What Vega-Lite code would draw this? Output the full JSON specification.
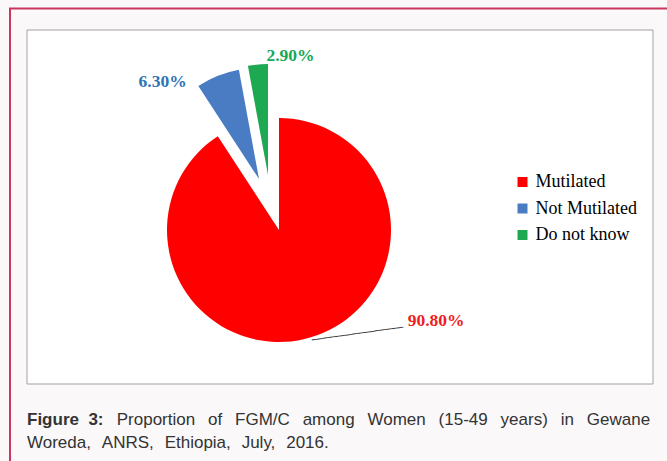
{
  "$schema": "https://vega.github.io/schema/vega-lite/v6.json",
  "width": 626,
  "height": 354,
  "autosize": {"type": "none"},
  "padding": {"left": 27, "top": 30, "right": 14, "bottom": 77},
  "background": "#faf8f9",
  "data": {
    "values": [
      {"category": "Mutilated", "value": 90.8, "label": "90.80%", "order": 1},
      {"category": "Not Mutilated", "value": 6.3, "label": "6.30%", "order": 2},
      {"category": "Do not know", "value": 2.9, "label": "2.90%", "order": 3}
    ]
  },
  "transform": [
    {"stack": "value", "groupby": [], "sort": [{"field": "order", "order": "ascending"}], "as": ["v0", "v1"]}
  ],
  "title": {
    "text": "Figure\u00a0\u00a03:",
    "subtitle": [
      "\u200b\u00a0\u00a0\u00a0\u00a0\u00a0\u00a0\u00a0\u00a0\u00a0\u00a0\u00a0\u00a0\u00a0\u00a0\u00a0\u00a0\u00a0\u00a0\u00a0Proportion\u00a0\u00a0\u2009of\u00a0\u00a0\u2009FGM/C\u00a0\u00a0\u2009among\u00a0\u00a0\u2009Women\u00a0\u00a0\u2009(15-49\u00a0\u00a0\u2009years)\u00a0\u00a0\u2009in\u00a0\u00a0\u2009Gewane",
      "Woreda,\u00a0\u00a0\u200aANRS,\u00a0\u00a0\u200aEthiopia,\u00a0\u00a0\u200aJuly,\u00a0\u00a0\u200a2016."
    ],
    "orient": "bottom",
    "anchor": "start",
    "frame": "group",
    "offset": -60,
    "font": "Liberation Sans",
    "fontSize": 17,
    "fontWeight": "bold",
    "color": "#333333",
    "subtitleFont": "Liberation Sans",
    "subtitleFontSize": 17,
    "subtitleFontWeight": "normal",
    "subtitleColor": "#333333",
    "subtitlePadding": -17,
    "subtitleLineHeight": 23
  },
  "layer": [
    {
      "transform": [{"filter": "datum.category === 'Mutilated'"}],
      "mark": {"type": "rect", "x": -17, "y": -21.5, "x2": 700, "y2": 441, "fill": "white", "fillOpacity": 0, "stroke": "#c8385e", "strokeWidth": 2, "clip": false},
      "encoding": {}
    },
    {
      "transform": [{"filter": "datum.category === 'Mutilated'"}],
      "mark": {"type": "rect", "x": 0, "y": 0, "x2": {"expr": "width"}, "y2": {"expr": "height"}, "fill": "#ffffff", "stroke": "#a3a3a3", "strokeWidth": 1},
      "encoding": {}
    },
    {
      "transform": [{"filter": "datum.category === 'Mutilated'"}],
      "mark": {"type": "arc", "radius": 112, "xOffset": -61, "yOffset": 23},
      "encoding": {
        "theta": {"field": "v0", "type": "quantitative", "stack": null, "scale": {"domain": [0, 100]}},
        "theta2": {"field": "v1"},
        "color": {
          "field": "category",
          "type": "nominal",
          "scale": {"domain": ["Mutilated", "Not Mutilated", "Do not know"], "range": ["#ff0000", "#4a7cc4", "#1da852"]},
          "legend": {
            "orient": "none",
            "legendX": 486.5,
            "legendY": 143,
            "title": null,
            "symbolType": "square",
            "symbolSize": 100,
            "symbolStrokeWidth": 0,
            "symbolOpacity": 1,
            "labelFont": "Liberation Serif",
            "labelFontSize": 18,
            "labelColor": "#000000",
            "labelOffset": 4,
            "rowPadding": 8.5,
            "padding": 0
          }
        }
      }
    },
    {
      "transform": [{"filter": "datum.category === 'Not Mutilated'"}],
      "mark": {"type": "arc", "radius": 111, "xOffset": -81, "yOffset": -28},
      "encoding": {
        "theta": {"field": "v0", "type": "quantitative", "stack": null},
        "theta2": {"field": "v1"},
        "color": {"field": "category", "type": "nominal"}
      }
    },
    {
      "transform": [{"filter": "datum.category === 'Do not know'"}],
      "mark": {"type": "arc", "radius": 111, "xOffset": -72, "yOffset": -32},
      "encoding": {
        "theta": {"field": "v0", "type": "quantitative", "stack": null},
        "theta2": {"field": "v1"},
        "color": {"field": "category", "type": "nominal"}
      }
    },
    {
      "transform": [{"filter": "datum.category === 'Mutilated'"}],
      "mark": {"type": "text", "radius": 115, "xOffset": -61, "yOffset": 23, "text": "────────────────", "font": "DejaVu Sans Mono", "fontSize": 9.6, "align": "left", "baseline": "middle", "angle": -8, "fill": "#3a3a3a"},
      "encoding": {
        "theta": {"field": "value", "type": "quantitative", "stack": true}
      }
    },
    {
      "transform": [{"filter": "datum.category === 'Mutilated'"}],
      "mark": {"type": "text", "radius": 95, "xOffset": -61, "yOffset": 23, "dx": 130, "font": "Liberation Serif", "fontWeight": "bold", "fontSize": 17.5, "align": "center", "baseline": "middle", "fill": "#ee1d23"},
      "encoding": {
        "theta": {"field": "value", "type": "quantitative", "stack": true},
        "text": {"field": "label"}
      }
    },
    {
      "transform": [{"filter": "datum.category === 'Not Mutilated'"}],
      "mark": {"type": "text", "radius": 116, "xOffset": -81, "yOffset": -28, "dx": -33, "font": "Liberation Serif", "fontWeight": "bold", "fontSize": 17.5, "align": "center", "baseline": "middle", "fill": "#2e75b6"},
      "encoding": {
        "theta": {"field": "v0", "type": "quantitative", "stack": null},
        "text": {"field": "label"}
      }
    },
    {
      "transform": [{"filter": "datum.category === 'Do not know'"}],
      "mark": {"type": "text", "radius": 119, "xOffset": -72, "yOffset": -32, "dx": 22.5, "font": "Liberation Serif", "fontWeight": "bold", "fontSize": 17.5, "align": "center", "baseline": "middle", "fill": "#14a85a"},
      "encoding": {
        "theta": {"field": "v1", "type": "quantitative", "stack": null},
        "text": {"field": "label"}
      }
    }
  ],
  "config": {
    "view": {"stroke": null}
  }
}
